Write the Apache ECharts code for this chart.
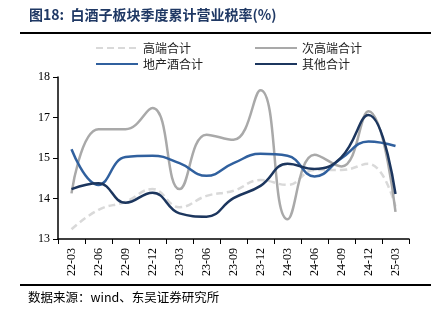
<!DOCTYPE html>
<html><head><meta charset="utf-8">
<script src="https://cdn.jsdelivr.net/npm/echarts@6/dist/echarts.min.js"></script>
<style>html,body{margin:0;padding:0;background:#fff}#c{width:445px;height:324px}</style>
</head><body><div id="c"></div>
<script>
const categories = ['22-03','22-06','22-09','22-12','23-03','23-06','23-09','23-12','24-03','24-06','24-09','24-12','25-03'];
const highEnd    = [13.30,13.90,14.15,14.54,13.98,14.33,14.49,14.82,14.67,15.13,15.13,15.32,14.00];
const subHighEnd = [14.41,16.39,16.39,17.04,14.54,16.22,16.06,17.59,13.61,15.60,15.24,16.94,13.84];
const localLiquor= [15.77,14.67,15.53,15.57,15.34,14.95,15.34,15.63,15.57,14.93,15.49,16.01,15.87];
const others     = [14.54,14.72,14.12,14.43,13.79,13.69,14.26,14.64,15.32,15.16,15.53,16.83,14.39];
const yTickLabels = ['13','14','15','17','18'];
const seriesNames = ['高端合计','次高端合计','地产酒合计','其他合计'];

const chart = echarts.init(document.getElementById('c'), null, {renderer:'canvas'});
const serif = '"Liberation Serif","Times New Roman",serif';
const cjk = '"Noto Sans CJK SC",sans-serif';
function legendAt(name, left, top){
  return {data:[name], left:left, top:top, itemWidth:42, itemHeight:2, itemGap:4,
    itemStyle:{opacity:0},
    textStyle:{fontFamily:cjk, fontSize:12, color:'#222'}};
}
chart.setOption({
  animation:false,
  backgroundColor:'#fff',
  legend:[legendAt(seriesNames[0],90,37),legendAt(seriesNames[1],249,37),legendAt(seriesNames[2],90,53),legendAt(seriesNames[3],249,53)],
  grid:{left:58,right:36,top:77,bottom:85,containLabel:false},
  xAxis:{type:'category',data:categories,boundaryGap:true,
    axisLine:{lineStyle:{color:'#000',width:1.5}},
    axisTick:{show:true,length:5,interval:0,lineStyle:{color:'#000'}},
    axisLabel:{rotate:90,interval:0,fontFamily:serif,fontSize:12,color:'#000',margin:9}},
  yAxis:{type:'value',min:13,max:18,interval:1.25,
    splitLine:{show:false},
    axisLine:{show:true,lineStyle:{color:'#000',width:1.5}},
    axisTick:{show:true,length:5,lineStyle:{color:'#000'}},
    axisLabel:{fontFamily:serif,fontSize:12,color:'#000',margin:8,
      formatter:function(v){const i=Math.round((v-13)/1.25);return yTickLabels[i]||'';}}},
  series:[
    {name:seriesNames[0],type:'line',data:highEnd,smooth:0.45,symbol:'none',
      lineStyle:{color:'#d9d9d9',width:2.5,type:[7,4]},itemStyle:{color:'#d9d9d9'}},
    {name:seriesNames[1],type:'line',data:subHighEnd,smooth:0.45,symbol:'none',
      lineStyle:{color:'#a9a9a9',width:2.5},itemStyle:{color:'#a9a9a9'}},
    {name:seriesNames[2],type:'line',data:localLiquor,smooth:0.45,symbol:'none',
      lineStyle:{color:'#30609e',width:2.5},itemStyle:{color:'#30609e'}},
    {name:seriesNames[3],type:'line',data:others,smooth:0.45,symbol:'none',
      lineStyle:{color:'#1c365e',width:2.5},itemStyle:{color:'#1c365e'}}
  ],
  graphic:[
    {type:'text',left:29,top:8,style:{text:'图18:  白酒子板块季度累计营业税率(%)',fontFamily:cjk,fontSize:14,fontWeight:'bold',fill:'#1f3864'}},
    {type:'rect',shape:{x:20,y:32,width:411,height:2},style:{fill:'#000'}},
    {type:'rect',shape:{x:20,y:284,width:411,height:2},style:{fill:'#000'}},
    {type:'text',left:28,top:291,style:{text:'数据来源：wind、东吴证券研究所',fontFamily:cjk,fontSize:12.5,fill:'#000'}}
  ]
});
</script></body></html>
